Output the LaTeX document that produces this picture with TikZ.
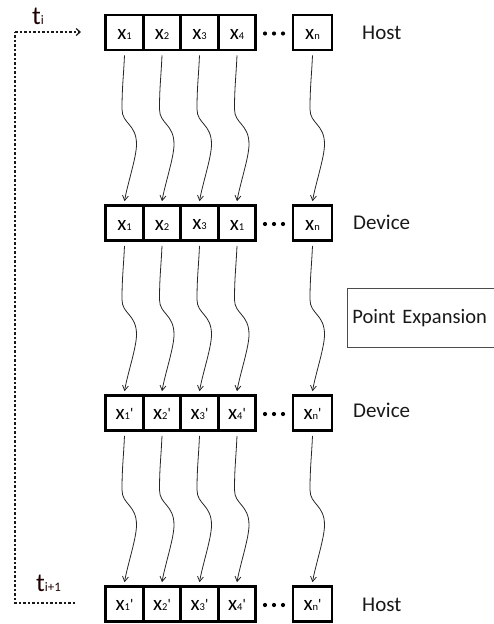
\documentclass[tikz,border=0pt]{standalone}
\usepackage{fontspec}
\setmainfont{Carlito}
\usetikzlibrary{arrows.meta,calc}
\newcommand\xlab[2]{x{\fontsize{10.5}{10.5}\selectfont #1}#2}
\newcommand\pr{\raisebox{1.5pt}{\fontsize{15}{15}\selectfont\textquotesingle}}
\begin{document}
\begin{tikzpicture}[x=1pt,y=-1pt,
  cell/.style={draw, line width=2.6pt, minimum width=37.5pt, minimum height=35pt, inner sep=0pt},
  lastcell/.style={cell, minimum width=39pt},
  clab/.style={font=\fontsize{21}{21}\selectfont, inner sep=0pt, text=black},
  rowlab/.style={anchor=west, font=\fontsize{21}{21}\selectfont, text=black!90, inner sep=0pt},
  dotc/.style={fill=black, draw=none, circle, inner sep=0pt, minimum size=4.2pt},
  squig/.style={draw=black!85, line width=0.8pt, -{Straight Barb[length=5pt,width=6pt]},
    to path={let \p1=(\tikztostart), \p2=(\tikztotarget), \n1={\y1-\y2} in
      .. controls (\x1-1pt,\y1-0.15*\n1) and (\x1-2.5pt,\y1-0.22*\n1) .. (\x1-2.5pt,\y1-0.37*\n1)
      .. controls (\x1-2.5pt,\y1-0.47*\n1) and (\x1+12pt,\y1-0.47*\n1) .. (\x1+12pt,\y1-0.61*\n1)
      .. controls (\x1+12pt,\y1-0.70*\n1) and (\x2+3pt,\y2+0.12*\n1) .. (\tikztotarget)}},
  loop/.style={draw=black!90, dashed, dash pattern=on 2.5pt off 2pt, line width=1.2pt},
  tlab/.style={font=\fontsize{26}{26}\selectfont, text=black!88!red, inner sep=0pt, anchor=base west}
]
\useasboundingbox (0,0) rectangle (493,624);

% rows
\foreach \r/\yy in {h/32.5,d/223,e/413,g/604}{
  \node[cell] (\r1) at (124.5,\yy) {};
  \node[cell] (\r2) at (162,\yy) {};
  \node[cell] (\r3) at (199.5,\yy) {};
  \node[cell] (\r4) at (237,\yy) {};
  \node[lastcell] (\r n) at (312.5,\yy) {};
  \node[dotc] (\r da) at (265,\yy+1) {};
  \node[dotc] (\r db) at (274,\yy+1) {};
  \node[dotc] (\r dc) at (283,\yy+1) {};
}
% labels
\foreach \c/\t in {1/\xlab{1}{},2/\xlab{2}{},3/\xlab{3}{},4/\xlab{4}{},n/\xlab{n}{}}
  \node[clab] at ([yshift=-2pt]h\c) {\t};
\foreach \c/\t in {1/\xlab{1}{},2/\xlab{2}{},3/\xlab{3}{},4/\xlab{1}{},n/\xlab{n}{}}
  \node[clab] at ([yshift=-2pt]d\c) {\t};
\foreach \r in {e,g}{
  \foreach \c/\t in {1/\xlab{1}{\pr},2/\xlab{2}{\pr},3/\xlab{3}{\pr},4/\xlab{4}{\pr},n/\xlab{n}{\pr}}
    \node[clab] at ([yshift=-1pt]\r\c) {\t};
}

\node[rowlab] (lh) at (362,33) {Host};
\node[rowlab] (ld) at (353,222) {Device};
\node[rowlab] (le) at (353,410) {Device};
\node[rowlab] (lg) at (362,605) {Host};

\node[draw=black!70, line width=0.8pt, anchor=north west, minimum width=170pt, minimum height=59pt,
  text width=160pt, align=left, inner xsep=4pt, font=\fontsize{20.5}{20.5}\selectfont, text=black!90]
  (pe) at (347,288) {Point Expansion};

% squiggly arrows
\foreach \a/\b in {h/d,d/e,e/g}{
  \foreach \c in {1,2,3,4,n}{
    \path[squig] ([yshift=-4pt]\a\c.south) to ([yshift=3pt]\b\c.north);
  }
}

% time loop
\coordinate (ls) at (75,603);
\coordinate (lc1) at (15,603);
\coordinate (lc2) at (15,32);
\coordinate (le2) at (81,32);
\draw[loop] (ls) -- (lc1) -- (lc2);
\draw[loop, -{Straight Barb[length=4pt,width=7pt]}] (lc2) -- (le2);

\node[tlab] (ti) at (32,24) {t{\fontsize{13}{13}\selectfont i}};
\node[tlab] (ti1) at (36,591) {t{\fontsize{13}{13}\selectfont i+1}};
\end{tikzpicture}
\end{document}
